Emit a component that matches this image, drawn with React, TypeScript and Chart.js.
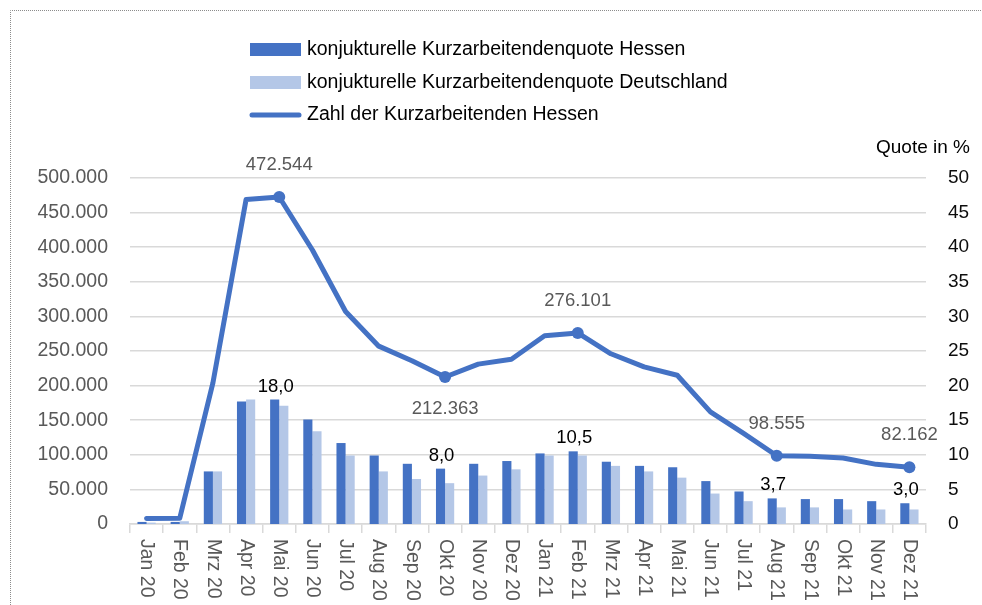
import React, { useEffect, useRef } from "react";
import { Chart, registerables } from "chart.js";

Chart.register(...registerables);

const months = [
  "Jan 20", "Feb 20", "Mrz 20", "Apr 20", "Mai 20", "Jun 20", "Jul 20", "Aug 20",
  "Sep 20", "Okt 20", "Nov 20", "Dez 20", "Jan 21", "Feb 21", "Mrz 21", "Apr 21",
  "Mai 21", "Jun 21", "Jul 21", "Aug 21", "Sep 21", "Okt 21", "Nov 21", "Dez 21",
];

const kurzarbeitendeHessen = [
  8100, 8300, 204000, 469000, 472544, 396000, 307000, 257000,
  236000, 212363, 231000, 238000, 272000, 276101, 246000, 227000,
  215000, 162000, 131000, 98555, 98000, 95400, 86200, 82162,
];

const quoteHessen = [
  0.3, 0.3, 7.6, 17.7, 18.0, 15.1, 11.7, 9.9,
  8.7, 8.0, 8.7, 9.1, 10.2, 10.5, 9.0, 8.4,
  8.2, 6.2, 4.7, 3.7, 3.6, 3.6, 3.3, 3.0,
];

const quoteDeutschland = [
  0.2, 0.4, 7.6, 18.0, 17.1, 13.4, 9.9, 7.6,
  6.5, 5.9, 7.0, 7.9, 9.9, 9.9, 8.4, 7.6,
  6.7, 4.4, 3.3, 2.4, 2.4, 2.1, 2.1, 2.1,
];

const labeledIndices = [4, 9, 13, 19, 23];
const lineLabelBelow = [9];

const leftMax = 500000;
const leftStep = 50000;
const rightMax = 50;
const rightStep = 5;

const legendLabels = [
  "konjukturelle Kurzarbeitendenquote Hessen",
  "konjukturelle Kurzarbeitendenquote Deutschland",
  "Zahl der Kurzarbeitenden Hessen",
];
const rightAxisTitle = "Quote in %";

const DARK = "#4472C4";
const LIGHT = "#B4C7E7";
const GRID = "#D9D9D9";
const GRAY_TEXT = "#595959";
const FONT = "'Liberation Sans', Arial, sans-serif";

const fmtThousands = (v: number) =>
  Math.round(v).toString().replace(/\B(?=(\d{3})+(?!\d))/g, ".");
const fmtDecimal = (v: number) => v.toFixed(1).replace(".", ",");

const overlayPlugin = {
  id: "overlay",
  beforeDraw(chart: any) {
    const ctx = chart.ctx;
    ctx.save();
    ctx.strokeStyle = "#8c8c8c";
    ctx.lineWidth = 1;
    ctx.setLineDash([1, 1]);
    ctx.beginPath();
    ctx.moveTo(10.5, chart.height);
    ctx.lineTo(10.5, 10.5);
    ctx.lineTo(chart.width, 10.5);
    ctx.stroke();
    ctx.restore();
  },
  afterDraw(chart: any) {
    const ctx = chart.ctx;
    ctx.save();

    // Legend
    const rowsY = [49.5, 82.5, 115];
    ctx.font = `19.5px ${FONT}`;
    ctx.textBaseline = "middle";
    ctx.textAlign = "left";
    legendLabels.forEach((lbl, i) => {
      const y = rowsY[i];
      if (i < 2) {
        ctx.fillStyle = i === 0 ? DARK : LIGHT;
        ctx.fillRect(250, y - 6.5, 51, 13);
      } else {
        ctx.strokeStyle = DARK;
        ctx.lineWidth = 5;
        ctx.lineCap = "round";
        ctx.beginPath();
        ctx.moveTo(252, y);
        ctx.lineTo(299, y);
        ctx.stroke();
      }
      ctx.fillStyle = "#000000";
      ctx.fillText(lbl, 307, y);
    });

    // Right axis title
    ctx.font = `19px ${FONT}`;
    ctx.fillStyle = "#000000";
    ctx.fillText(rightAxisTitle, 876, 148);

    // X labels rotated clockwise
    const xs = chart.scales.x;
    ctx.font = `19.5px ${FONT}`;
    ctx.fillStyle = GRAY_TEXT;
    months.forEach((m, i) => {
      const x = xs.getPixelForValue(i);
      ctx.save();
      ctx.translate(x, 539);
      ctx.rotate(Math.PI / 2);
      ctx.textAlign = "left";
      ctx.textBaseline = "middle";
      ctx.fillText(m, 0, 0);
      ctx.restore();
    });

    // Line data labels
    const lineMeta = chart.getDatasetMeta(2);
    ctx.font = `18.5px ${FONT}`;
    ctx.fillStyle = GRAY_TEXT;
    ctx.textAlign = "center";
    ctx.textBaseline = "middle";
    labeledIndices.forEach((i) => {
      const pt = lineMeta.data[i];
      const below = lineLabelBelow.includes(i);
      ctx.fillText(fmtThousands(kurzarbeitendeHessen[i]), pt.x, below ? pt.y + 32 : pt.y - 32);
    });

    // Bar data labels
    const barMeta = chart.getDatasetMeta(0);
    ctx.fillStyle = "#000000";
    labeledIndices.forEach((i) => {
      const bar = barMeta.data[i];
      ctx.fillText(fmtDecimal(quoteHessen[i]), bar.x + 1, bar.y - 13);
    });

    ctx.restore();
  },
};

export default function App() {
  const canvasRef = useRef<HTMLCanvasElement | null>(null);

  useEffect(() => {
    if (!canvasRef.current) return;
    const chart = new Chart(canvasRef.current, {
      type: "bar",
      data: {
        labels: months,
        datasets: [
          {
            type: "bar",
            label: legendLabels[0],
            data: quoteHessen,
            backgroundColor: DARK,
            yAxisID: "y1",
            order: 2,
            categoryPercentage: 0.55,
            barPercentage: 1,
          },
          {
            type: "bar",
            label: legendLabels[1],
            data: quoteDeutschland,
            backgroundColor: LIGHT,
            yAxisID: "y1",
            order: 2,
            categoryPercentage: 0.55,
            barPercentage: 1,
          },
          {
            type: "line",
            label: legendLabels[2],
            data: kurzarbeitendeHessen,
            borderColor: DARK,
            backgroundColor: DARK,
            borderWidth: 5,
            borderJoinStyle: "round",
            borderCapStyle: "round",
            tension: 0,
            yAxisID: "y",
            order: 0,
            pointRadius: (c: any) => (labeledIndices.includes(c.dataIndex) ? 6 : 0),
            pointBorderWidth: 0,
            pointBackgroundColor: DARK,
          } as any,
        ],
      },
      options: {
        responsive: false,
        animation: false,
        events: [],
        layout: { padding: { top: 178, left: 0, right: 0, bottom: 0 } },
        plugins: {
          legend: { display: false },
          title: { display: false },
          tooltip: { enabled: false },
        },
        scales: {
          x: {
            offset: true,
            afterFit: (s: any) => {
              s.height = 81;
            },
            ticks: { display: false },
            grid: {
              display: true,
              offset: true,
              drawOnChartArea: false,
              drawTicks: true,
              tickLength: 9,
              color: GRID,
              lineWidth: 1.5,
            },
            border: { display: true, color: GRID, width: 1.5 },
          },
          y: {
            position: "left",
            min: 0,
            max: leftMax,
            afterFit: (s: any) => {
              s.width = 130;
            },
            ticks: {
              stepSize: leftStep,
              padding: 22,
              color: GRAY_TEXT,
              font: { family: FONT, size: 19.5 },
              callback: (v: any) => fmtThousands(Number(v)),
            },
            grid: { color: GRID, lineWidth: 1.5, drawTicks: false },
            border: { display: false },
          },
          y1: {
            position: "right",
            min: 0,
            max: rightMax,
            afterFit: (s: any) => {
              s.width = 56;
            },
            ticks: {
              stepSize: rightStep,
              padding: 22,
              color: "#0d0d0d",
              font: { family: FONT, size: 19 },
            },
            grid: { display: false, drawTicks: false },
            border: { display: false },
          },
        },
      } as any,
      plugins: [overlayPlugin],
    });
    return () => chart.destroy();
  }, []);

  return (
    <div style={{ position: "absolute", left: 0, top: 0, width: 982, height: 605, background: "#fff" }}>
      <canvas ref={canvasRef} width={982} height={605} />
    </div>
  );
}
